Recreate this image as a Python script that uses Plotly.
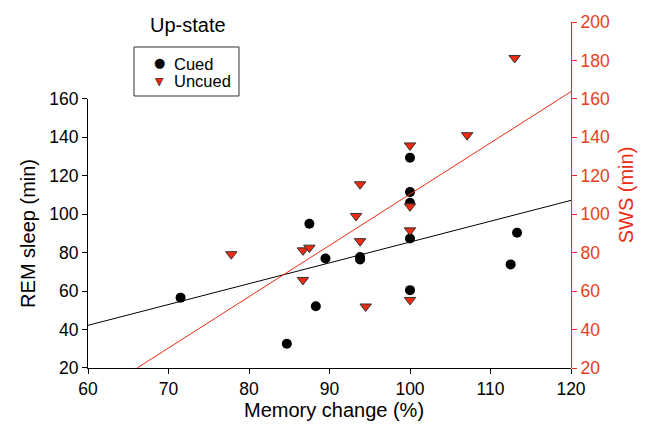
import plotly.graph_objects as go

# Cued (REM sleep, left axis)
cued_x = [71.5, 84.7, 87.5, 88.3, 89.5, 93.8, 93.8, 100, 100, 100, 100, 100, 112.5, 113.3]
cued_y = [56.6, 32.6, 95.0, 52.1, 77.0, 77.7, 76.5, 129.4, 111.5, 106.0, 87.4, 60.5, 73.9, 90.4]

# Uncued (SWS, right axis)
uncued_x = [77.8, 86.7, 87.5, 86.7, 93.3, 93.8, 93.8, 94.5, 100, 100, 100, 100, 107.1, 113.0]
uncued_y = [79.2, 81.2, 82.6, 65.8, 99.1, 115.6, 86.0, 52.0, 135.8, 104.1, 91.6, 55.4, 141.1, 181.3]

# Regression lines
rem_fit_x = [60, 120]
rem_fit_y = [42.2, 107.2]
sws_fit_x = [66.1, 120]
sws_fit_y = [20, 163.8]

x_ticks = [60, 70, 80, 90, 100, 110, 120]
rem_ticks = [20, 40, 60, 80, 100, 120, 140, 160]
sws_ticks = [20, 40, 60, 80, 100, 120, 140, 160, 180, 200]

RED = "#ee2a12"
RED_TXT = "#e8401c"
FONT = "Liberation Sans, Arial, sans-serif"

# page body has an 8px margin; offsets compensate for it
OFF = 8
W, H = 650, 432
ML, MR, MT, MB = 80, 87, 14, 72
plot_w = W - ML - MR
plot_h = H - MT - MB


def px_x(p):
    return (p - OFF - ML) / plot_w


def px_y(p):
    return (H - MB - (p - OFF)) / plot_h


fig = go.Figure()
fig.add_trace(go.Scatter(x=rem_fit_x, y=rem_fit_y, mode="lines",
                         line=dict(color="black", width=1), showlegend=False,
                         yaxis="y", hoverinfo="skip"))
fig.add_trace(go.Scatter(x=sws_fit_x, y=sws_fit_y, mode="lines",
                         line=dict(color=RED, width=1), showlegend=False,
                         yaxis="y2", hoverinfo="skip"))
fig.add_trace(go.Scatter(x=cued_x, y=cued_y, mode="markers", name="Cued",
                         marker=dict(symbol="circle", size=10, color="black"),
                         yaxis="y", showlegend=False))
fig.add_trace(go.Scatter(x=uncued_x, y=uncued_y, mode="markers", name="Uncued",
                         marker=dict(symbol="triangle-down", size=10, color=RED,
                                     line=dict(color="#333333", width=1)),
                         yaxis="y2", showlegend=False))

annotations = [
    dict(text="Up-state", x=px_x(188), y=px_y(25), xanchor="center", yanchor="middle",
         font=dict(size=20)),
    dict(text="Memory change (%)", x=px_x(334), y=px_y(410), xanchor="center",
         yanchor="middle", font=dict(size=20)),
    # legend
    dict(text="Cued", x=px_x(172), y=px_y(64), xanchor="left", yanchor="middle",
         font=dict(size=16.5)),
    dict(text="Uncued", x=px_x(172), y=px_y(81), xanchor="left", yanchor="middle",
         font=dict(size=16.5)),
    dict(text="●", x=px_x(159), y=px_y(63), xanchor="center", yanchor="middle",
         font=dict(size=13, color="black", family="DejaVu Sans")),
    dict(text="▼", x=px_x(159), y=px_y(81), xanchor="center", yanchor="middle",
         font=dict(size=11, color=RED, family="DejaVu Sans")),
    dict(text="▽", x=px_x(159), y=px_y(81), xanchor="center", yanchor="middle",
         font=dict(size=11, color="#333333", family="DejaVu Sans")),
]
for a in annotations:
    a.update(xref="paper", yref="paper", showarrow=False)

fig.update_layout(
    width=W, height=H,
    margin=dict(l=ML, r=MR, t=MT, b=MB),
    plot_bgcolor="rgba(0,0,0,0)", paper_bgcolor="white",
    font=dict(family=FONT, size=17.5, color="black"),
    showlegend=False,
    xaxis=dict(range=[60, 120], tickvals=x_ticks, showgrid=False, zeroline=False,
               showline=True, linecolor="black", linewidth=1,
               ticks="outside", ticklen=5, tickcolor="black", automargin=False,
               anchor="y"),
    yaxis=dict(range=[20, 160], domain=[0, 140 / 180], tickvals=rem_ticks,
               showgrid=False, zeroline=False, showline=True, linecolor="black",
               linewidth=1, ticks="outside", ticklen=5, tickcolor="black",
               automargin=False,
               title=dict(text="REM sleep (min)", font=dict(size=20), standoff=8),
               anchor="x"),
    yaxis2=dict(range=[20, 200], domain=[0, 1], tickvals=sws_ticks, side="right",
                anchor="x", showgrid=False, zeroline=False, showline=True,
                linecolor=RED, linewidth=1, ticks="outside", ticklen=5,
                tickcolor=RED, tickfont=dict(color=RED_TXT), automargin=False,
                title=dict(text="SWS (min)", font=dict(size=20, color=RED), standoff=10)),
    annotations=annotations,
    shapes=[dict(type="rect", xref="paper", yref="paper",
                 x0=px_x(134), x1=px_x(239), y0=px_y(47), y1=px_y(96),
                 line=dict(color="#333333", width=1), fillcolor="rgba(0,0,0,0)")],
)

fig.write_html("out.html")
